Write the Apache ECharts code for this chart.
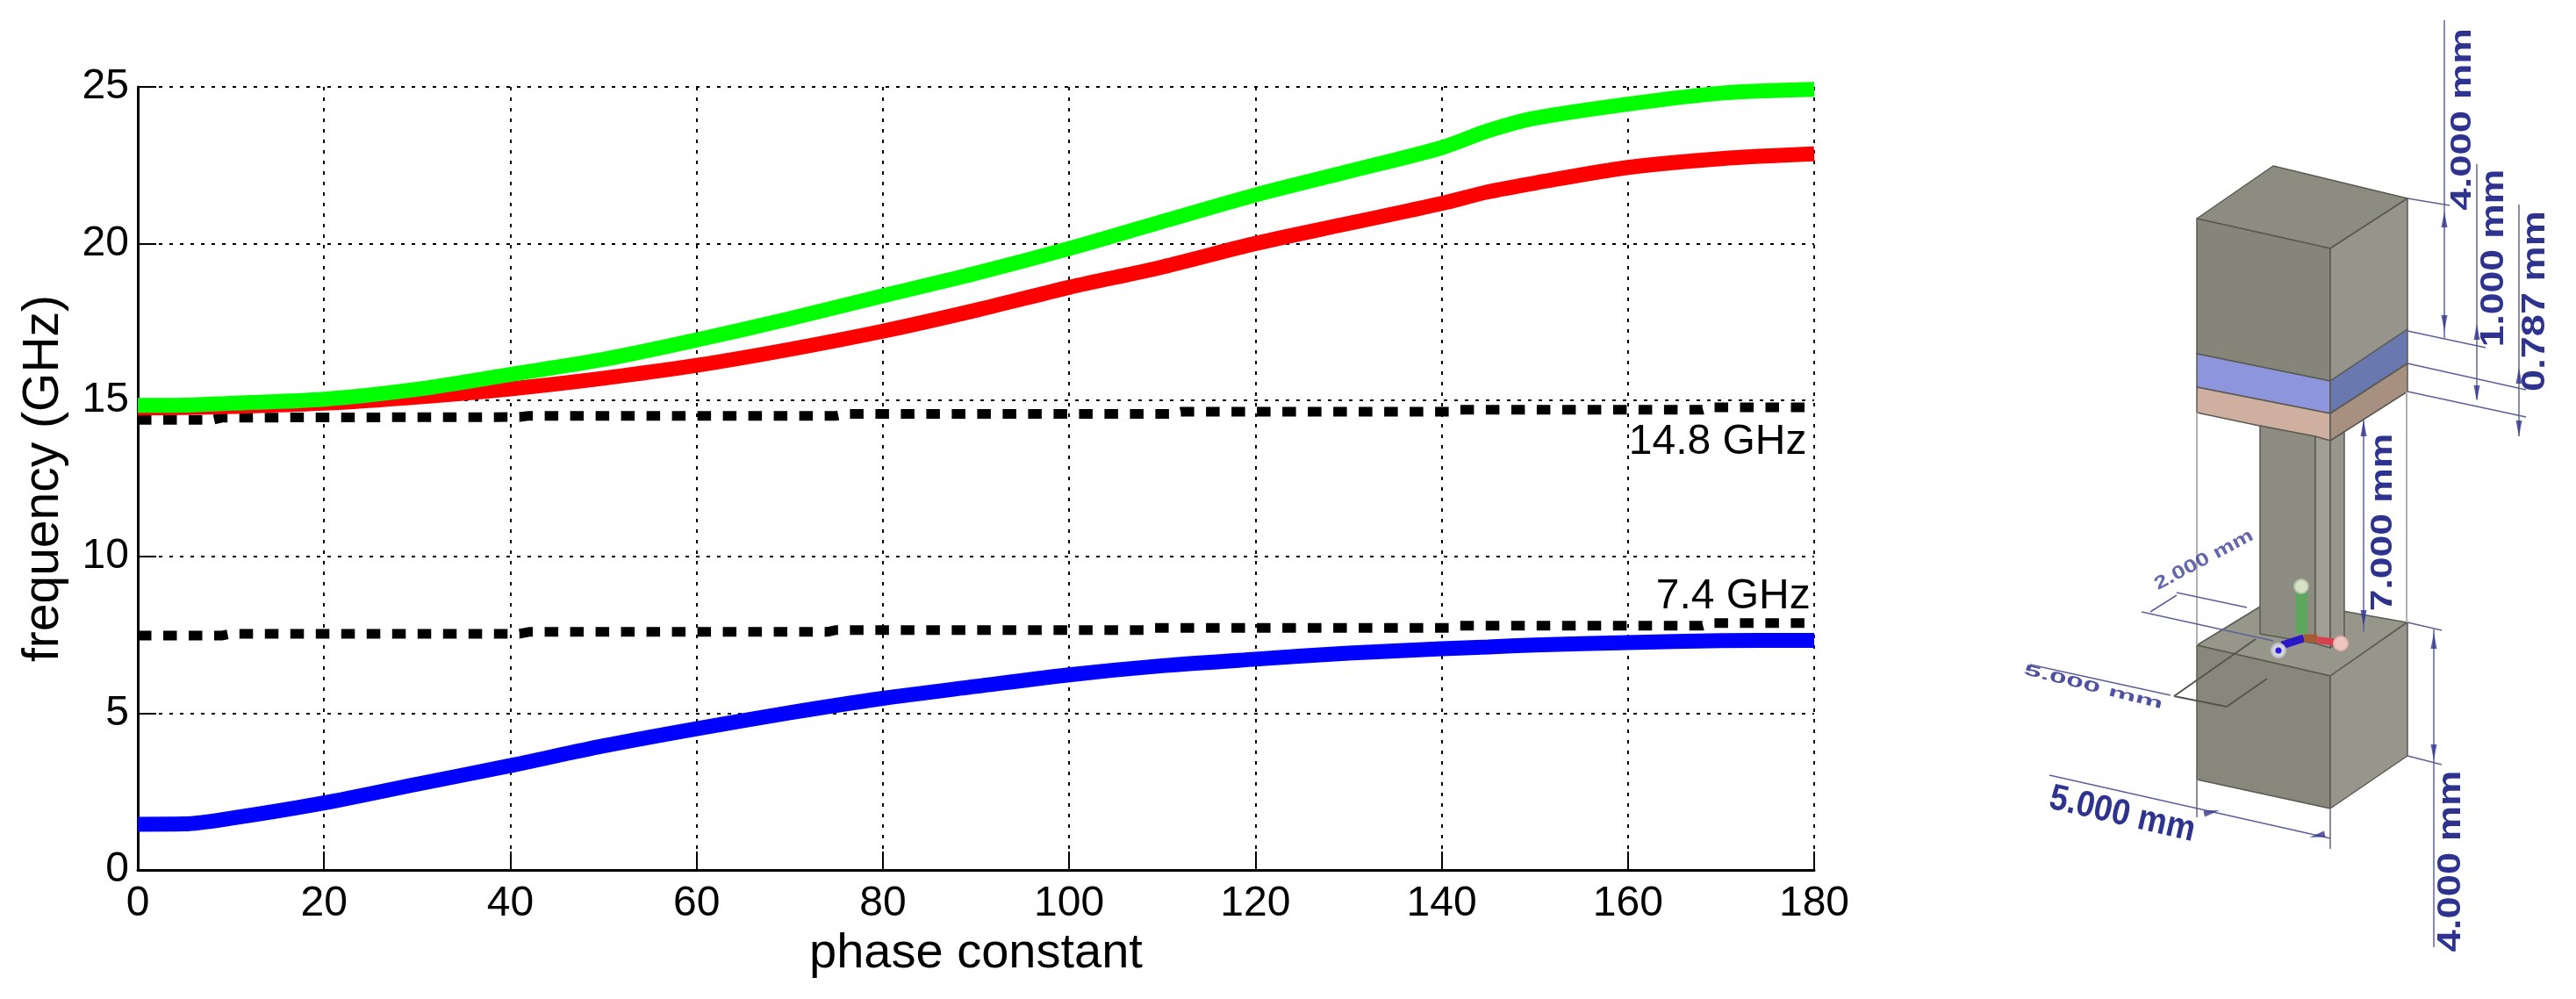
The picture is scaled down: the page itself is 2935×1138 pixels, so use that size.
<!DOCTYPE html>
<html>
<head>
    <meta charset="utf-8">
    <title>phase constant vs frequency</title>
    <script src="https://cdn.jsdelivr.net/npm/echarts@6/dist/echarts.min.js"></script>
    <style>
        html,body{
            height: 100%;
            margin: 0;
            padding: 0;
            background: #fff;
        }
    </style>
</head>
<body>
    <div id="main" style="width: 100%;height:100%;"></div>
    <script type="text/javascript">
    // values
    var phase = [0, 5, 10, 20, 30, 40, 50, 60, 70, 80, 90, 100, 110, 120, 130, 140, 145, 150, 160, 170, 180];
    var mode1 = [1.46, 1.47, 1.65, 2.14, 2.74, 3.33, 3.96, 4.51, 5.02, 5.48, 5.86, 6.23, 6.52, 6.73, 6.92, 7.06, 7.12, 7.18, 7.26, 7.32, 7.33];
    var mode2 = [14.75, 14.76, 14.8, 14.9, 15.1, 15.36, 15.7, 16.11, 16.62, 17.2, 17.87, 18.6, 19.25, 20.0, 20.64, 21.28, 21.65, 21.93, 22.43, 22.71, 22.86];
    var mode3 = [14.83, 14.84, 14.9, 15.03, 15.35, 15.82, 16.3, 16.92, 17.6, 18.33, 19.05, 19.84, 20.7, 21.55, 22.3, 23.06, 23.6, 24.0, 24.45, 24.8, 24.92];

    var lightX14 = [0, 8, 9, 41, 42, 75, 76, 111, 112, 141, 142, 168, 169, 180];
    var lightY14 = [14.37, 14.37, 14.44, 14.46, 14.5, 14.5, 14.56, 14.56, 14.63, 14.63, 14.69, 14.69, 14.77, 14.77];
    var lightX7 = [0, 9, 10, 41, 42, 74, 75, 108, 109, 141, 142, 168, 169, 180];
    var lightY7 = [7.48, 7.48, 7.54, 7.54, 7.6, 7.6, 7.66, 7.66, 7.73, 7.73, 7.8, 7.8, 7.88, 7.88];

    function zip(xs, ys){
        return xs.map(function(x, i){ return [x, ys[i]]; });
    }

    var FONT = '"Liberation Sans", Arial, sans-serif';
    var DIM = '#2f3390';
    var DIMLINE = '#5c6099';

    function poly(pts, fill, z){
        return {type: 'polygon', z: z || 10, shape: {points: pts},
            style: {fill: fill, stroke: '#5a5a52', lineWidth: 1.5, lineJoin: 'round'}};
    }
    function seg(x1, y1, x2, y2, color, w){
        return {type: 'line', z: 12, shape: {x1: x1, y1: y1, x2: x2, y2: y2},
            style: {stroke: color || DIMLINE, lineWidth: w || 1.5}};
    }
    function arrow(x, y, ang){
        return {type: 'polygon', z: 13, x: x, y: y, rotation: ang,
            shape: {points: [[0, -9], [3.5, 9], [-3.5, 9]]}, style: {fill: DIM, opacity: 0.8}};
    }
    // dimension text, rot in degrees counter-clockwise, sx stretches along the text and sy across it
    function dimText(str, x, y, rot, size, sx, sy, op){
        return {type: 'text', z: 14, x: x, y: y, rotation: rot * Math.PI / 180, scaleX: sx, scaleY: sy,
            style: {text: str, x: 0, y: 0, align: 'center', verticalAlign: 'middle', fill: DIM, opacity: op || 1,
                font: 'bold ' + size + 'px ' + FONT}};
    }

    // the 3D sketch on the right side
    var sketch = [
        // light construction lines behind the solid
        seg(2503, 470, 2503, 735, '#b0b0b0', 2),
        seg(2742, 446, 2742, 709, '#b0b0b0', 2),
        seg(2503, 888, 2503, 931, '#8a8a9a', 2),
        seg(2655, 921, 2655, 967, '#8a8a9a', 2),

        // top block
        poly([[2503, 249], [2590, 189], [2743, 226], [2655, 283]], '#8d8c80'),
        poly([[2503, 249], [2655, 283], [2655, 434], [2503, 403]], '#85857a'),
        poly([[2655, 283], [2743, 226], [2743, 375], [2655, 434]], '#97958b'),
        // copper layer
        poly([[2503, 403], [2655, 434], [2655, 471], [2503, 441]], '#8d96dc'),
        poly([[2655, 434], [2743, 375], [2743, 414], [2655, 471]], '#6a78b0'),
        // substrate
        poly([[2503, 441], [2655, 471], [2655, 502], [2503, 470]], '#cfb0a0'),
        poly([[2655, 471], [2743, 414], [2743, 446], [2655, 502]], '#a89080'),

        // lower block
        poly([[2503, 735], [2590, 682], [2742, 709], [2655, 770]], '#96968a'),
        poly([[2503, 735], [2655, 770], [2655, 921], [2503, 888]], '#87877b'),
        poly([[2655, 770], [2743, 709], [2743, 861], [2655, 921]], '#98968c'),

        // post
        poly([[2575, 485], [2638, 497], [2638, 733], [2575, 722]], '#8c8c82', 11),
        poly([[2638, 497], [2655, 502], [2655, 738], [2638, 733]], '#a0a096', 11),
        poly([[2655, 502], [2671, 492], [2671, 727], [2655, 738]], '#96968c', 11),

        // axis triad at the origin
        {type: 'rect', z: 15, shape: {x: 2616, y: 672, width: 13, height: 50}, style: {fill: '#4caf50', opacity: 0.75}},
        {type: 'circle', z: 15, shape: {cx: 2622, cy: 668, r: 8}, style: {fill: '#d8e0c8', stroke: '#b0c0a0', lineWidth: 2}},
        seg(2600, 735, 2625, 727, '#2a18c8', 9),
        seg(2625, 727, 2640, 727, '#a85a30', 9),
        seg(2640, 729, 2664, 732, '#d8404f', 8),
        {type: 'circle', z: 15, shape: {cx: 2667, cy: 733, r: 8}, style: {fill: '#eec8c0', stroke: '#e8b0a8', lineWidth: 2}},
        {type: 'circle', z: 15, shape: {cx: 2596, cy: 741, r: 8}, style: {fill: '#d4d4dc', stroke: '#c0c0c8', lineWidth: 2}},
        {type: 'circle', z: 16, shape: {cx: 2596, cy: 741, r: 3.5}, style: {fill: '#2a18e8'}},

        // dimension lines, top
        seg(2785, 23, 2785, 385),
        seg(2822, 187, 2822, 455, '#8a8ca8', 2),
        seg(2870, 233, 2870, 497, '#8a8ca8', 2),
        seg(2743, 226, 2791, 234),
        seg(2743, 377, 2832, 396),
        seg(2743, 414, 2878, 444),
        seg(2743, 446, 2878, 475),
        arrow(2785, 250, 0),
        arrow(2785, 368, Math.PI),
        arrow(2822, 378, 0),
        arrow(2822, 448, Math.PI),
        arrow(2870, 428, 0),
        arrow(2870, 488, Math.PI),

        // post height
        seg(2693, 478, 2693, 720),
        arrow(2693, 488, 0),
        arrow(2693, 704, Math.PI),

        // lower block height
        seg(2773, 717, 2773, 1079),
        seg(2743, 709, 2782, 718),
        seg(2743, 861, 2782, 871),
        arrow(2773, 730, 0),
        arrow(2773, 857, Math.PI),

        // bottom width
        seg(2335, 883, 2655, 955),
        arrow(2520, 925, -1.35),
        arrow(2640, 952, 1.8),

        // post width and block depth
        seg(2440, 697, 2590, 730),
        seg(2480, 675, 2560, 692),
        seg(2450, 697, 2480, 678),
        seg(2313, 757, 2473, 792),
        seg(2477, 793, 2537, 805, '#55554f', 2),
        seg(2537, 805, 2583, 773, '#55554f', 2),
        seg(2477, 793, 2570, 728, '#55554f', 2),

        dimText('4.000 mm', 2806, 136, 90, 33, 1.38, 1),
        dimText('1.000 mm', 2842, 294, 90, 37, 1.2, 1),
        dimText('0.787 mm', 2889, 343, 90, 37, 1.22, 1),
        dimText('7.000 mm', 2715, 595, 90, 35, 1.27, 1),
        dimText('4.000 mm', 2793, 981, 90, 36, 1.26, 1),
        dimText('5.000 mm', 2418, 928, -13, 36, 1.03, 1.15),
        dimText('5.000 mm', 2385, 783, -14, 34, 1.05, 0.5, 0.85),
        dimText('2.000 mm', 2511, 638, 28, 26, 1.05, 0.8, 0.75)
    ];

    var myChart = echarts.init(document.getElementById('main'));

    var gridLine = {show: true, lineStyle: {color: '#000', width: 2, type: [4, 8]}};

    var option = {
        backgroundColor: '#fff',
        animation: false,
        textStyle: {fontFamily: FONT},
        grid: {left: 157, right: 868, top: 99, bottom: 147, containLabel: false, outerBoundsMode: 'none'},
        xAxis: {
            type: 'value',
            min: 0,
            max: 180,
            interval: 20,
            name: 'phase constant',
            nameLocation: 'middle',
            nameGap: 60,
            nameTextStyle: {fontSize: 56, color: '#000', fontFamily: FONT},
            axisLine: {onZero: false, lineStyle: {color: '#000', width: 3}},
            axisTick: {inside: true, length: 21, lineStyle: {color: '#000', width: 2}},
            axisLabel: {color: '#000', fontSize: 48, margin: 15, fontFamily: FONT},
            splitLine: gridLine
        },
        yAxis: {
            type: 'value',
            min: 0,
            max: 25,
            interval: 5,
            name: 'frequency (GHz)',
            nameLocation: 'middle',
            nameRotate: 90,
            nameGap: 78,
            nameTextStyle: {fontSize: 57, color: '#000', fontFamily: FONT},
            axisLine: {show: true, onZero: false, lineStyle: {color: '#000', width: 3}},
            axisTick: {show: true, inside: true, length: 21, lineStyle: {color: '#000', width: 2}},
            axisLabel: {color: '#000', fontSize: 48, margin: 10, fontFamily: FONT},
            splitLine: gridLine
        },
        graphic: {elements: sketch},
        series: [
            {
                name: '7.4 GHz',
                type: 'line',
                showSymbol: false,
                z: 3,
                data: zip(lightX7, lightY7),
                lineStyle: {color: '#000', width: 11, type: [15.5, 13.5]},
                markPoint: {
                    symbolSize: 0,
                    data: [{coord: [179.6, 8.71], value: '7.4 GHz'}],
                    label: {show: true, position: 'left', distance: 0, color: '#000', fontSize: 48, fontFamily: FONT, formatter: '{c}'}
                }
            },
            {
                name: '14.8 GHz',
                type: 'line',
                showSymbol: false,
                z: 3,
                data: zip(lightX14, lightY14),
                lineStyle: {color: '#000', width: 11, type: [15.5, 13.5]},
                markPoint: {
                    symbolSize: 0,
                    data: [{coord: [179.2, 13.66], value: '14.8 GHz'}],
                    label: {show: true, position: 'left', distance: 0, color: '#000', fontSize: 48, fontFamily: FONT, formatter: '{c}'}
                }
            },
            {name: 'mode 1', type: 'line', showSymbol: false, smooth: 0.3, z: 4, data: zip(phase, mode1), lineStyle: {color: '#0000ff', width: 17}},
            {name: 'mode 2', type: 'line', showSymbol: false, smooth: 0.3, z: 4, data: zip(phase, mode2), lineStyle: {color: '#ff0000', width: 17}},
            {name: 'mode 3', type: 'line', showSymbol: false, smooth: 0.3, z: 5, data: zip(phase, mode3), lineStyle: {color: '#00ff00', width: 17}}
        ]
    };

    myChart.setOption(option);
    </script>
</body>
</html>
